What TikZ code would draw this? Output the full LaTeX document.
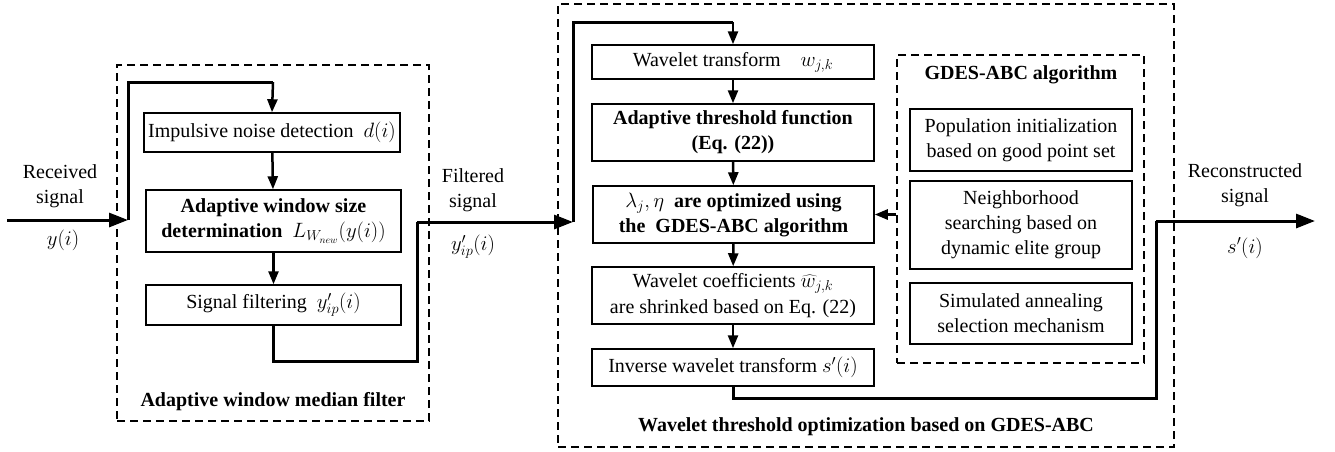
\documentclass[tikz,border=0pt]{standalone}
\usepackage{fontspec}
\setmainfont{Liberation Serif}
\usetikzlibrary{arrows.meta}
\begin{document}
\begin{tikzpicture}[x=1pt,y=-1pt,
  every node/.style={font=\fontsize{20}{25}\selectfont},
  blk/.style={draw,line width=1.5pt,inner sep=0pt,align=center},
  grp/.style={draw,dashed,dash pattern=on 8pt off 5pt,line width=1.3pt,inner sep=0pt},
  sig/.style={line width=3pt},
  sigarr/.style={line width=3pt,-{Triangle[length=19pt,width=14pt]}},
  flow/.style={line width=2.5pt,-{Triangle[length=13pt,width=10pt]}},
  lbl/.style={align=center,inner sep=0pt},
  ttl/.style={inner sep=0pt,font=\fontsize{20}{25}\selectfont\bfseries}]
\useasboundingbox (0,0) rectangle (1335,451);
% groups
\node[grp,minimum width=312pt,minimum height=356pt] (gL) at (273,243) {};
\node[grp,minimum width=616pt,minimum height=443pt] (gR) at (866,225.5) {};
\node[grp,minimum width=247pt,minimum height=308pt] (gI) at (1020.5,209) {};
% left blocks
\node[blk,minimum width=256pt,minimum height=39pt] (b1) at (272,132.5) {Impulsive noise detection\ \ $d(i)$};
\node[blk,minimum width=255pt,minimum height=62pt,font=\fontsize{20}{25}\selectfont\bfseries] (b2) at (273.5,221) {Adaptive window size\\determination\ \ $L_{W_{new}}(y(i))$};
\node[blk,minimum width=255pt,minimum height=40pt] (b3) at (273.5,305) {Signal filtering\ \ $y'_{ip}(i)$};
% middle blocks
\node[blk,minimum width=282pt,minimum height=34pt] (w1) at (733,62) {Wavelet transform\quad $w_{j,k}$};
\node[blk,minimum width=282pt,minimum height=57pt,font=\fontsize{20}{25}\selectfont\bfseries] (w2) at (733,132.5) {Adaptive threshold function\\(Eq. (22))};
\node[blk,minimum width=281pt,minimum height=57pt,font=\fontsize{20}{25}\selectfont\bfseries] (w3) at (733.5,214.5) {$\lambda_j,\eta$\ \ are optimized using\\the\ \ GDES-ABC algorithm};
\node[blk,minimum width=282pt,minimum height=57pt] (w4) at (733,295.5) {Wavelet coefficients $\widehat{w}_{j,k}$\\[1pt]are shrinked based on Eq. (22)};
\node[blk,minimum width=282pt,minimum height=37pt] (w5) at (733,367.5) {Inverse wavelet transform $s'(i)$};
% GDES blocks
\node[blk,minimum width=222pt,minimum height=62pt] (g1) at (1021,140) {Population initialization\\based on good point set};
\node[blk,minimum width=222pt,minimum height=88pt] (g2) at (1021,225) {Neighborhood\\searching based on\\dynamic elite group};
\node[blk,minimum width=222pt,minimum height=61pt] (g3) at (1021,313.5) {Simulated annealing\\selection mechanism};
% titles
\node[ttl] (tL) at (273,402) {Adaptive window median filter};
\node[ttl] (tR) at (866,427) {Wavelet threshold optimization based on GDES-ABC};
\node[ttl] (tI) at (1021,75) {GDES-ABC algorithm};
% signal labels
\node[lbl] (lr) at (60,186) {Received\\signal};
\node[lbl] (lry) at (63,240) {$y(i)$};
\node[lbl] (lf) at (473,190) {Filtered\\signal};
\node[lbl] (lfy) at (473,247) {$y'_{ip}(i)$};
\node[lbl] (lc) at (1245,185) {Reconstructed\\signal};
\node[lbl] (lcs) at (1245,248) {$s'(i)$};
% coordinates
\coordinate (in) at (7,220);
\coordinate (j1) at (128,220);
\coordinate (t1) at (273,82);
\coordinate (c1) at (417,361);
\coordinate (j2) at (573,222);
\coordinate (t2) at (733,22);
\coordinate (c2) at (1156,398);
\coordinate (out) at (1315,221);
% connectors
\draw[sigarr] (in) -- (j1);
\draw[sig] (j1) |- (t1);
\draw[flow] (t1) -- (b1.north);
\draw[flow] (b1) -- (b2);
\draw[flow] (b2) -- (b3);
\draw[sig] (b3.south) |- (c1) -- (c1 |- j2);
\draw[sigarr] (c1 |- j2) -- (j2);
\draw[sig] (j2) |- (t2);
\draw[flow] (t2) -- (w1.north);
\draw[flow] (w1) -- (w2);
\draw[flow] (w2) -- (w3);
\draw[flow] (w3) -- (w4);
\draw[flow] (w4) -- (w5);
\draw[flow] (gI.west |- w3.east) -- (w3.east);
\draw[sig] (w5.south) |- (c2) -- (c2 |- out);
\draw[sigarr] (c2 |- out) -- (out);
\end{tikzpicture}
\end{document}
